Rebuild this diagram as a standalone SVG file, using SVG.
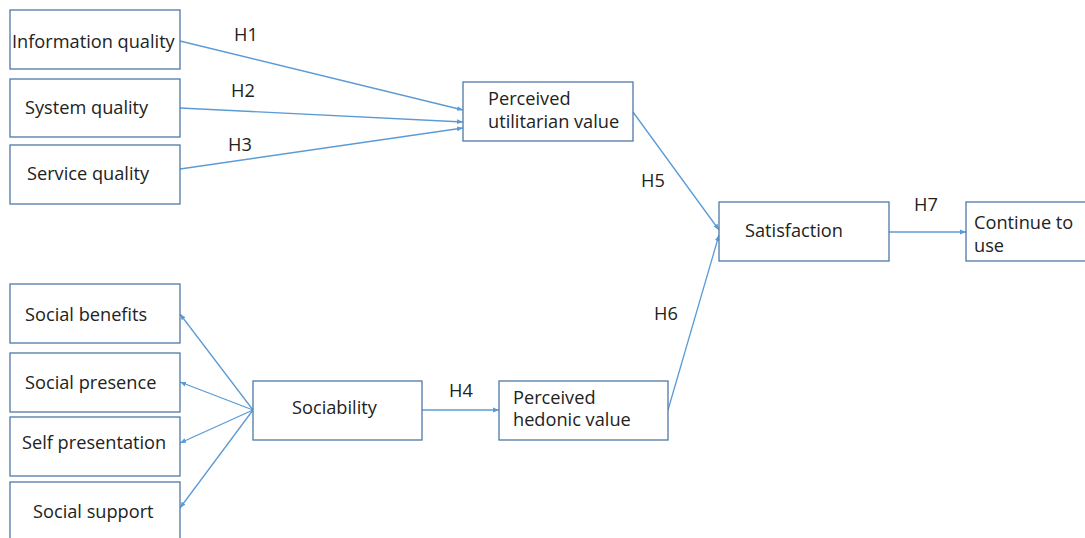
<svg xmlns="http://www.w3.org/2000/svg" width="1085" height="538" viewBox="0 0 1085 538">
<defs>
<style>
.box{fill:#fff;stroke:#4f79a8;stroke-width:1.3}
.t{font-family:"Open Sans","Liberation Sans",Arial,sans-serif;font-size:18.2px;fill:#222}
.c{stroke:#5b9bd5;stroke-width:1.3;fill:none;marker-end:url(#a)}
</style>
<marker id="a" viewBox="0 0 10 10" refX="10" refY="5" markerWidth="6" markerHeight="6" orient="auto" markerUnits="userSpaceOnUse">
<path d="M0,1 L10,5 L0,9 z" fill="#5b9bd5"/>
</marker>
</defs>
<rect width="1085" height="538" fill="#fff"/>
<g id="connectors">
<line class="c" x1="180" y1="41" x2="463" y2="110"/>
<line class="c" x1="180" y1="108" x2="463" y2="122"/>
<line class="c" x1="180" y1="169" x2="463" y2="128"/>
<line class="c" x1="633" y1="112" x2="719" y2="230"/>
<line class="c" x1="668" y1="410" x2="719" y2="235"/>
<line class="c" x1="889" y1="232" x2="966" y2="232"/>
<line class="c" x1="422" y1="410" x2="499" y2="410"/>
<line class="c" x1="253" y1="410" x2="180" y2="314"/>
<line class="c" x1="253" y1="410" x2="180" y2="382"/>
<line class="c" x1="253" y1="410" x2="180" y2="443"/>
<line class="c" x1="253" y1="410" x2="180" y2="508"/>
<text class="t" x="234" y="41">H1</text>
<text class="t" x="231" y="97">H2</text>
<text class="t" x="228" y="151">H3</text>
<text class="t" x="641" y="187">H5</text>
<text class="t" x="654" y="320">H6</text>
<text class="t" x="914" y="211">H7</text>
<text class="t" x="449" y="397">H4</text>
</g>
<g id="n1"><rect class="box" x="10" y="10" width="170" height="59"/><text class="t" x="12" y="48">Information quality</text></g>
<g id="n2"><rect class="box" x="10" y="79" width="170" height="58"/><text class="t" x="25" y="114">System quality</text></g>
<g id="n3"><rect class="box" x="10" y="145" width="170" height="59"/><text class="t" x="27" y="180">Service quality</text></g>
<g id="n4"><rect class="box" x="463" y="82" width="170" height="59"/><text class="t" x="488" y="105">Perceived</text><text class="t" x="488" y="128">utilitarian value</text></g>
<g id="n5"><rect class="box" x="719" y="202" width="170" height="59"/><text class="t" x="745" y="237">Satisfaction</text></g>
<g id="n6"><rect class="box" x="966" y="202" width="125" height="59"/><text class="t" x="974" y="229">Continue to</text><text class="t" x="974" y="252">use</text></g>
<g id="n7"><rect class="box" x="10" y="284" width="170" height="59"/><text class="t" x="25" y="321">Social benefits</text></g>
<g id="n8"><rect class="box" x="10" y="353" width="170" height="59"/><text class="t" x="25" y="389">Social presence</text></g>
<g id="n9"><rect class="box" x="10" y="417" width="170" height="59"/><text class="t" x="22" y="449">Self presentation</text></g>
<g id="n10"><rect class="box" x="10" y="482" width="170" height="70"/><text class="t" x="33" y="518">Social support</text></g>
<g id="n11"><rect class="box" x="253" y="381" width="169" height="59"/><text class="t" x="292" y="414">Sociability</text></g>
<g id="n12"><rect class="box" x="499" y="381" width="169" height="59"/><text class="t" x="513" y="404">Perceived</text><text class="t" x="513" y="426">hedonic value</text></g>
</svg>
